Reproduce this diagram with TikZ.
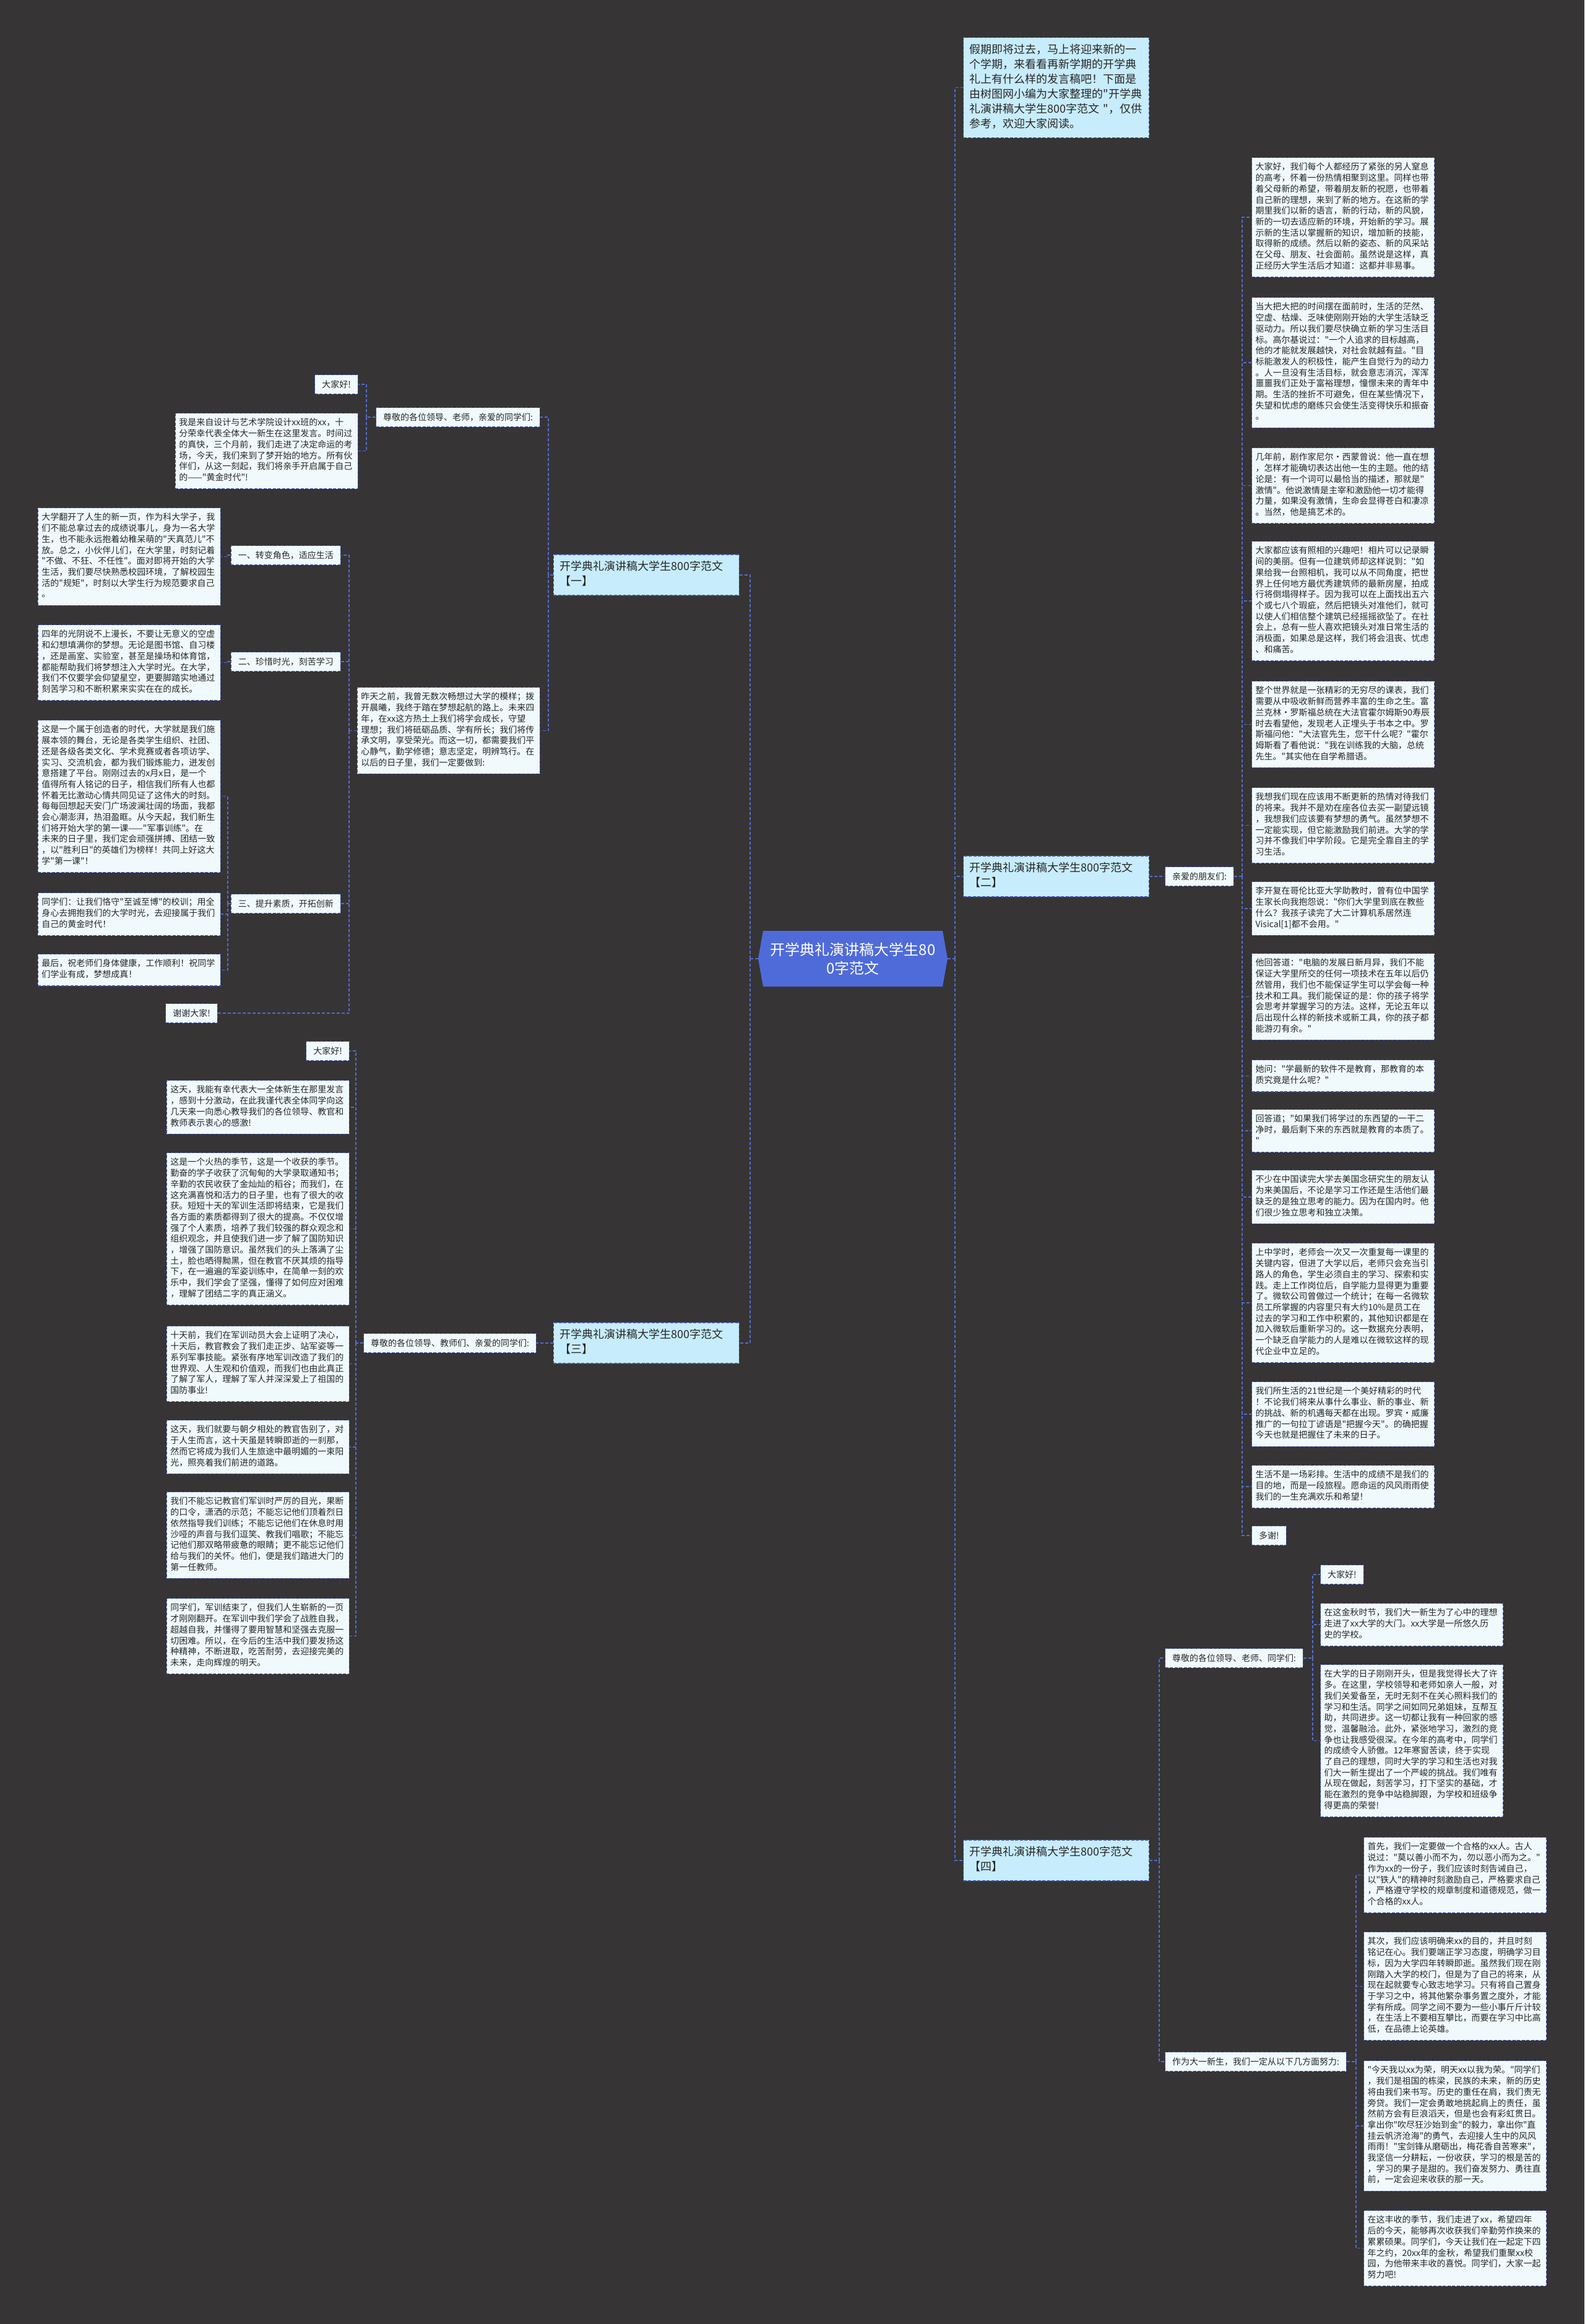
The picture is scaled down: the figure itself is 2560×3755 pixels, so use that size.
\documentclass[tikz,border=0pt]{standalone}
\usepackage{fontspec}
\newfontfamily\cjk{Noto Sans CJK SC}
\usepackage{tikz}
\definecolor{bgdark}{RGB}{54,52,53}
\definecolor{linkblue}{RGB}{82,108,205}
\definecolor{edgeblue}{RGB}{66,84,168}
\definecolor{boxfill}{RGB}{240,250,253}
\definecolor{branchfill}{RGB}{199,236,251}
\definecolor{rootblue}{RGB}{79,107,218}
\definecolor{inktext}{RGB}{38,38,38}
\tikzset{
	link/.style={linkblue, line width=1.4pt, dash pattern=on 5pt off 3pt},
	para/.style={draw=edgeblue, fill=boxfill, line width=1.1pt, dash pattern=on 5pt off 2.5pt, text=inktext, font=\cjk\fontsize{14}{17.7}\selectfont, text width=283pt, align=left, inner xsep=6pt, inner ysep=8pt, execute at begin node=\strut, execute at end node=\strut},
	tag/.style={draw=edgeblue, fill=boxfill, line width=1.1pt, dash pattern=on 5pt off 2.5pt, text=inktext, font=\cjk\fontsize{14}{17.7}\selectfont, inner xsep=11.5pt, inner ysep=0pt, minimum height=31pt},
	branch/.style={draw=edgeblue, fill=branchfill, line width=1.1pt, dash pattern=on 5pt off 2.5pt, text=inktext, font=\cjk\fontsize{18}{24}\selectfont, text width=280pt, align=left, inner xsep=10pt, inner ysep=9pt, execute at begin node=\strut, execute at end node=\strut},
	root/.style={fill=bgdark, text=white, font=\cjk\fontsize{24}{30}\selectfont, align=center, minimum width=306pt, minimum height=90pt, inner sep=0pt,
		path picture={\fill[rootblue] ([xshift=8pt]path picture bounding box.north west) -- ([xshift=-8pt]path picture bounding box.north east) -- (path picture bounding box.east) -- ([xshift=-8pt]path picture bounding box.south east) -- ([xshift=8pt]path picture bounding box.south west) -- (path picture bounding box.west) -- cycle;}},
}

\begin{document}
\begin{tikzpicture}[x=1pt, y=-1pt]
	
	\useasboundingbox (0,0) rectangle (2560,3755);
	\fill[bgdark] (0,0) rectangle (2560,3755);
	
	\coordinate (tR) at (1543,0);
	\coordinate (tL) at (1212,0);
	\coordinate (t1) at (886,0);
	\coordinate (t1a) at (592,0);
	\coordinate (t1b) at (564,0);
	\coordinate (t1c) at (368,0);
	\coordinate (t2) at (2007,0);
	\coordinate (t3) at (575,0);
	\coordinate (t4) at (1873,0);
	\coordinate (t4a) at (2121,0);
	\coordinate (t4b) at (2191,0);
	
	\node[root] (root) at (1378,1549) {开学典礼演讲稿大学生80\\0字范文};
	
	\node[branch, anchor=north west] (intro) at (1556,60) {假期即将过去，马上将迎来新的一\\个学期，来看看再新学期的开学典\\礼上有什么样的发言稿吧！下面是\\由树图网小编为大家整理的"开学典\\礼演讲稿大学生800字范文~"，仅供\\参考，欢迎大家阅读。};
	\node[branch, anchor=east] (b1) at (1195,929) {开学典礼演讲稿大学生800字范文\\【一】};
	\node[branch, anchor=west] (b2) at (1556,1416) {开学典礼演讲稿大学生800字范文\\【二】};
	\node[branch, anchor=east] (b3) at (1195,2170) {开学典礼演讲稿大学生800字范文\\【三】};
	\node[branch, anchor=west] (b4) at (1556,3006) {开学典礼演讲稿大学生800字范文\\【四】};
	
	% 一
	\node[tag, anchor=east] (g1) at (873,674) {尊敬的各位领导、老师，亲爱的同学们:};
	\node[tag, anchor=east] (h1) at (579,621) {大家好!};
	\node[para, anchor=north east] (m1) at (579,667) {我是来自设计与艺术学院设计xx班的xx，十\\分荣幸代表全体大一新生在这里发言。时间过\\的真快，三个月前，我们走进了决定命运的考\\场，今天，我们来到了梦开始的地方。所有伙\\伴们，从这一刻起，我们将亲手开启属于自己\\的——"黄金时代"!};
	\node[para, anchor=north east] (y1) at (873,1110) {昨天之前，我曾无数次畅想过大学的模样；拨\\开晨曦，我终于踏在梦想起航的路上。未来四\\年，在xx这方热土上我们将学会成长，守望\\理想；我们将砥砺品质、学有所长；我们将传\\承文明，享受荣光。而这一切，都需要我们平\\心静气，勤学修德；意志坚定，明辨笃行。在\\以后的日子里，我们一定要做到:};
	\node[tag, anchor=east] (s1) at (551,897) {一、转变角色，适应生活};
	\node[tag, anchor=east] (s2) at (551,1069) {二、珍惜时光，刻苦学习};
	\node[tag, anchor=east] (s3) at (551,1460) {三、提升素质，开拓创新};
	\node[tag, anchor=east] (thx) at (352,1637) {谢谢大家!};
	\node[para, anchor=north east] (p1) at (357,820) {大学翻开了人生的新一页，作为科大学子，我\\们不能总拿过去的成绩说事儿，身为一名大学\\生，也不能永远抱着幼稚呆萌的"天真范儿"不\\放。总之，小伙伴儿们，在大学里，时刻记着\\"不做、不狂、不任性"。面对即将开始的大学\\生活，我们要尽快熟悉校园环境，了解校园生\\活的"规矩"，时刻以大学生行为规范要求自己\\。};
	\node[para, anchor=north east] (p2) at (357,1009) {四年的光阴说不上漫长，不要让无意义的空虚\\和幻想填满你的梦想。无论是图书馆、自习楼\\，还是画室、实验室，甚至是操场和体育馆，\\都能帮助我们将梦想注入大学时光。在大学，\\我们不仅要学会仰望星空，更要脚踏实地通过\\刻苦学习和不断积累来实实在在的成长。};
	\node[para, anchor=north east] (p3) at (357,1163) {这是一个属于创造者的时代，大学就是我们施\\展本领的舞台，无论是各类学生组织、社团、\\还是各级各类文化、学术竞赛或者各项访学、\\实习、交流机会，都为我们锻炼能力，迸发创\\意搭建了平台。刚刚过去的x月x日，是一个\\值得所有人铭记的日子，相信我们所有人也都\\怀着无比激动心情共同见证了这伟大的时刻。\\每每回想起天安门广场波澜壮阔的场面，我都\\会心潮澎湃，热泪盈眶。从今天起，我们新生\\们将开始大学的第一课——"军事训练"。在\\未来的日子里，我们定会顽强拼搏、团结一致\\，以"胜利日"的英雄们为榜样！共同上好这大\\学"第一课"！};
	\node[para, anchor=north east] (p4) at (357,1442) {同学们：让我们恪守"至诚至博"的校训；用全\\身心去拥抱我们的大学时光，去迎接属于我们\\自己的黄金时代！};
	\node[para, anchor=north east] (p5) at (357,1541) {最后，祝老师们身体健康，工作顺利！祝同学\\们学业有成，梦想成真！};
	
	% 二
	\node[tag, anchor=west] (q2) at (1882,1416) {亲爱的朋友们:};
	\node[para, anchor=north west] (r1) at (2022,254) {大家好，我们每个人都经历了紧张的另人窒息\\的高考，怀着一份热情相聚到这里。同样也带\\着父母新的希望，带着朋友新的祝愿，也带着\\自己新的理想，来到了新的地方。在这新的学\\期里我们以新的语言，新的行动，新的风貌，\\新的一切去适应新的环境，开始新的学习。展\\示新的生活以掌握新的知识，增加新的技能，\\取得新的成绩。然后以新的姿态、新的风采站\\在父母、朋友、社会面前。虽然说是这样，真\\正经历大学生活后才知道：这都并非易事。};
	\node[para, anchor=north west] (r2) at (2022,480) {当大把大把的时间摆在面前时，生活的茫然、\\空虚、枯燥、乏味使刚刚开始的大学生活缺乏\\驱动力。所以我们要尽快确立新的学习生活目\\标。高尔基说过："一个人追求的目标越高，\\他的才能就发展越快，对社会就越有益。"目\\标能激发人的积极性，能产生自觉行为的动力\\。人一旦没有生活目标，就会意志消沉，浑浑\\噩噩我们正处于富裕理想，憧憬未来的青年中\\期。生活的挫折不可避免，但在某些情况下，\\失望和忧虑的磨练只会使生活变得快乐和振奋\\。};
	\node[para, anchor=north west] (r3) at (2022,723) {几年前，剧作家尼尔·西蒙曾说：他一直在想\\，怎样才能确切表达出他一生的主题。他的结\\论是：有一个词可以最恰当的描述，那就是"\\激情"。他说激情是主宰和激励他一切才能得\\力量，如果没有激情，生命会显得苍白和凄凉\\。当然，他是搞艺术的。};
	\node[para, anchor=north west] (r4) at (2022,874) {大家都应该有照相的兴趣吧！相片可以记录瞬\\间的美丽。但有一位建筑师却这样说到："如\\果给我一台照相机，我可以从不同角度，把世\\界上任何地方最优秀建筑师的最新房屋，拍成\\行将倒塌得样子。因为我可以在上面找出五六\\个或七八个瑕疵，然后把镜头对准他们，就可\\以使人们相信整个建筑已经摇摇欲坠了。在社\\会上，总有一些人喜欢把镜头对准日常生活的\\消极面，如果总是这样，我们将会沮丧、忧虑\\、和痛苦。};
	\node[para, anchor=north west] (r5) at (2022,1100) {整个世界就是一张精彩的无穷尽的课表，我们\\需要从中吸收新鲜而营养丰富的生命之生。富\\兰克林·罗斯福总统在大法官霍尔姆斯90寿辰\\时去看望他，发现老人正埋头于书本之中。罗\\斯福问他："大法官先生，您干什么呢？"霍尔\\姆斯看了看他说："我在训练我的大脑，总统\\先生。"其实他在自学希腊语。};
	\node[para, anchor=north west] (r6) at (2022,1272) {我想我们现在应该用不断更新的热情对待我们\\的将来。我并不是劝在座各位去买一副望远镜\\，我想我们应该要有梦想的勇气。虽然梦想不\\一定能实现，但它能激励我们前进。大学的学\\习并不像我们中学阶段。它是完全靠自主的学\\习生活。};
	\node[para, anchor=north west] (r7) at (2022,1424) {李开复在哥伦比亚大学助教时，曾有位中国学\\生家长向我抱怨说："你们大学里到底在教些\\什么？我孩子读完了大二计算机系居然连\\Visical[1]都不会用。"};
	\node[para, anchor=north west] (r8) at (2022,1540) {他回答道："电脑的发展日新月异，我们不能\\保证大学里所交的任何一项技术在五年以后仍\\然管用，我们也不能保证学生可以学会每一种\\技术和工具。我们能保证的是：你的孩子将学\\会思考并掌握学习的方法。这样，无论五年以\\后出现什么样的新技术或新工具，你的孩子都\\能游刃有余。"};
	\node[para, anchor=north west] (r9) at (2022,1712) {她问："学最新的软件不是教育，那教育的本\\质究竟是什么呢？"};
	\node[para, anchor=north west] (r10) at (2022,1792) {回答道；"如果我们将学过的东西望的一干二\\净时，最后剩下来的东西就是教育的本质了。\\"};
	\node[para, anchor=north west] (r11) at (2022,1890) {不少在中国读完大学去美国念研究生的朋友认\\为来美国后，不论是学习工作还是生活他们最\\缺乏的是独立思考的能力。因为在国内时。他\\们很少独立思考和独立决策。};
	\node[para, anchor=north west] (r12) at (2022,2008) {上中学时，老师会一次又一次重复每一课里的\\关键内容，但进了大学以后，老师只会充当引\\路人的角色，学生必须自主的学习、探索和实\\践。走上工作岗位后，自学能力显得更为重要\\了。微软公司曾做过一个统计；在每一名微软\\员工所掌握的内容里只有大约10\%是员工在\\过去的学习和工作中积累的，其他知识都是在\\加入微软后重新学习的。这一数据充分表明，\\一个缺乏自学能力的人是难以在微软这样的现\\代企业中立足的。};
	\node[para, anchor=north west] (r13) at (2022,2232) {我们所生活的21世纪是一个美好精彩的时代\\！不论我们将来从事什么事业、新的事业、新\\的挑战、新的机遇每天都在出现。罗宾·威廉\\推广的一句拉丁谚语是"把握今天"。的确把握\\今天也就是把握住了未来的日子。};
	\node[para, anchor=north west] (r14) at (2022,2367) {生活不是一场彩排。生活中的成绩不是我们的\\目的地，而是一段旅程。愿命运的风风雨雨使\\我们的一生充满欢乐和希望！};
	\node[tag, anchor=north west] (r15) at (2022,2465) {多谢!};
	
	% 三
	\node[tag, anchor=east] (g3) at (867,2170) {尊敬的各位领导、教师们、亲爱的同学们:};
	\node[tag, anchor=east] (k1) at (565,1698) {大家好!};
	\node[para, anchor=north east] (k2) at (565,1745) {这天，我能有幸代表大一全体新生在那里发言\\，感到十分激动，在此我谨代表全体同学向这\\几天来一向悉心教导我们的各位领导、教官和\\教师表示衷心的感激!};
	\node[para, anchor=north east] (k3) at (565,1862) {这是一个火热的季节，这是一个收获的季节。\\勤奋的学子收获了沉甸甸的大学录取通知书；\\辛勤的农民收获了金灿灿的稻谷；而我们，在\\这充满喜悦和活力的日子里，也有了很大的收\\获。短短十天的军训生活即将结束，它是我们\\各方面的素质都得到了很大的提高。不仅仅增\\强了个人素质，培养了我们较强的群众观念和\\组织观念，并且使我们进一步了解了国防知识\\，增强了国防意识。虽然我们的头上落满了尘\\土，脸也晒得黝黑，但在教官不厌其烦的指导\\下，在一遍遍的军姿训练中，在简单一刻的欢\\乐中，我们学会了坚强，懂得了如何应对困难\\，理解了团结二字的真正涵义。};
	\node[para, anchor=north east] (k4) at (565,2142) {十天前，我们在军训动员大会上证明了决心，\\十天后，教官教会了我们走正步、站军姿等一\\系列军事技能。紧张有序地军训改造了我们的\\世界观、人生观和价值观，而我们也由此真正\\了解了军人，理解了军人并深深爱上了祖国的\\国防事业!};
	\node[para, anchor=north east] (k5) at (565,2294) {这天，我们就要与朝夕相处的教官告别了，对\\于人生而言，这十天虽是转瞬即逝的一刹那，\\然而它将成为我们人生旅途中最明媚的一束阳\\光，照亮着我们前进的道路。};
	\node[para, anchor=north east] (k6) at (565,2410) {我们不能忘记教官们军训时严厉的目光，果断\\的口令，潇洒的示范；不能忘记他们顶着烈日\\依然指导我们训练；不能忘记他们在休息时用\\沙哑的声音与我们逗笑、教我们唱歌；不能忘\\记他们那双略带疲惫的眼睛；更不能忘记他们\\给与我们的关怀。他们，便是我们踏进大门的\\第一任教师。};
	\node[para, anchor=north east] (k7) at (565,2582) {同学们，军训结束了，但我们人生崭新的一页\\才刚刚翻开。在军训中我们学会了战胜自我，\\超越自我，并懂得了要用智慧和坚强去克服一\\切困难。所以，在今后的生活中我们要发扬这\\种精神，不断进取，吃苦耐劳，去迎接完美的\\未来，走向辉煌的明天。};
	
	% 四
	\node[tag, anchor=west] (g4a) at (1882,2679) {尊敬的各位领导、老师、同学们:};
	\node[tag, anchor=west] (g4b) at (1882,3331) {作为大一新生，我们一定从以下几方面努力:};
	\node[tag, anchor=west] (w1) at (2133,2544) {大家好!};
	\node[para, anchor=north west] (w2) at (2133,2590) {在这金秋时节，我们大一新生为了心中的理想\\走进了xx大学的大门。xx大学是一所悠久历\\史的学校。};
	\node[para, anchor=north west] (w3) at (2133,2689) {在大学的日子刚刚开头，但是我觉得长大了许\\多。在这里，学校领导和老师如亲人一般，对\\我们关爱备至，无时无刻不在关心照料我们的\\学习和生活。同学之间如同兄弟姐妹，互帮互\\助，共同进步。这一切都让我有一种回家的感\\觉，温馨融洽。此外，紧张地学习，激烈的竞\\争也让我感受很深。在今年的高考中，同学们\\的成绩令人骄傲。12年寒窗苦读，终于实现\\了自己的理想，同时大学的学习和生活也对我\\们大一新生提出了一个严峻的挑战。我们唯有\\从现在做起，刻苦学习，打下坚实的基础，才\\能在激烈的竞争中站稳脚跟，为学校和班级争\\得更高的荣誉!};
	\node[para, anchor=north west] (v1) at (2203,2968) {首先，我们一定要做一个合格的xx人。古人\\说过："莫以善小而不为，勿以恶小而为之。"\\作为xx的一份子，我们应该时刻告诫自己，\\以"铁人"的精神时刻激励自己，严格要求自己\\，严格遵守学校的规章制度和道德规范，做一\\个合格的xx人。};
	\node[para, anchor=north west] (v2) at (2203,3121) {其次，我们应该明确来xx的目的，并且时刻\\铭记在心。我们要端正学习态度，明确学习目\\标，因为大学四年转瞬即逝。虽然我们现在刚\\刚踏入大学的校门，但是为了自己的将来，从\\现在起就要专心致志地学习。只有将自己置身\\于学习之中，将其他繁杂事务置之度外，才能\\学有所成。同学之间不要为一些小事斤斤计较\\，在生活上不要相互攀比，而要在学习中比高\\低，在品德上论英雄。};
	\node[para, anchor=north west] (v3) at (2203,3329) {"今天我以xx为荣，明天xx以我为荣。"同学们\\，我们是祖国的栋梁，民族的未来，新的历史\\将由我们来书写。历史的重任在肩，我们责无\\旁贷。我们一定会勇敢地挑起肩上的责任，虽\\然前方会有巨浪滔天，但是也会有彩虹贯日。\\拿出你"吹尽狂沙始到金"的毅力，拿出你"直\\挂云帆济沧海"的勇气，去迎接人生中的风风\\雨雨！"宝剑锋从磨砺出，梅花香自苦寒来"，\\我坚信一分耕耘，一份收获，学习的根是苦的\\，学习的果子是甜的。我们奋发努力、勇往直\\前，一定会迎来收获的那一天。};
	\node[para, anchor=north west] (v4) at (2203,3571) {在这丰收的季节，我们走进了xx，希望四年\\后的今天，能够再次收获我们辛勤劳作换来的\\累累硕果。同学们，今天让我们在一起定下四\\年之约，20xx年的金秋，希望我们重聚xx校\\园，为他带来丰收的喜悦。同学们，大家一起\\努力吧!};
	
	\draw[link] (root.east) -- (root.east -| tR);
	\foreach \b in {intro,b2,b4} \draw[link] (root.east -| tR) |- (\b.west);
	\draw[link] (root.west) -- (root.west -| tL);
	\foreach \b in {b1,b3} \draw[link] (root.west -| tL) |- (\b.east);
	
	\draw[link] (b1.west) -- (b1.west -| t1);
	\foreach \c in {g1,y1} \draw[link] (b1.west -| t1) |- (\c.east);
	\draw[link] (g1.west) -- (g1.west -| t1a);
	\foreach \c in {h1,m1} \draw[link] (g1.west -| t1a) |- (\c.east);
	\draw[link] (y1.west) -- (y1.west -| t1b);
	\foreach \c in {s1,s2,s3,thx} \draw[link] (y1.west -| t1b) |- (\c.east);
	\draw[link] (s1.west) -- (s1.west -| t1c) |- (p1.east);
	\draw[link] (s2.west) -- (s2.west -| t1c) |- (p2.east);
	\draw[link] (s3.west) -- (s3.west -| t1c);
	\foreach \c in {p3,p4,p5} \draw[link] (s3.west -| t1c) |- (\c.east);
	
	\draw[link] (b2.east) -- (q2.west);
	\draw[link] (q2.east) -- (q2.east -| t2);
	\foreach \n in {1,...,15} \draw[link] (q2.east -| t2) |- (r\n.west);
	
	\draw[link] (b3.west) -- (g3.east);
	\draw[link] (g3.west) -- (g3.west -| t3);
	\foreach \n in {1,...,7} \draw[link] (g3.west -| t3) |- (k\n.east);
	
	\draw[link] (b4.east) -- (b4.east -| t4);
	\foreach \c in {g4a,g4b} \draw[link] (b4.east -| t4) |- (\c.west);
	\draw[link] (g4a.east) -- (g4a.east -| t4a);
	\foreach \n in {1,2,3} \draw[link] (g4a.east -| t4a) |- (w\n.west);
	\draw[link] (g4b.east) -- (g4b.east -| t4b);
	\foreach \n in {1,...,4} \draw[link] (g4b.east -| t4b) |- (v\n.west);
	
\end{tikzpicture}
\end{document}
